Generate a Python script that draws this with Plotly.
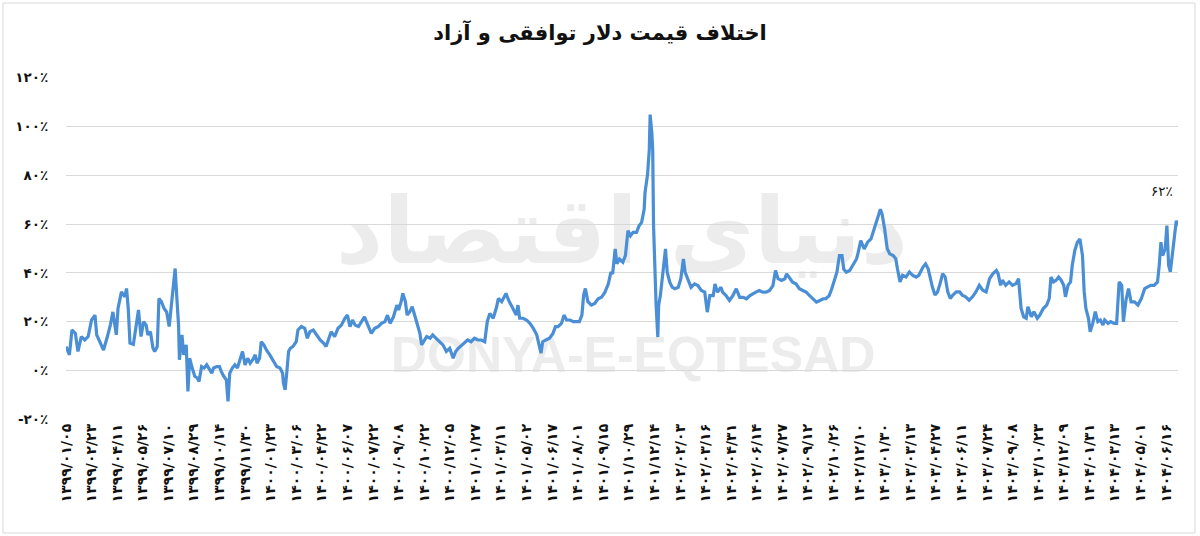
import plotly.graph_objects as go

# ---- data ----
day_index = [
    0, 4, 7, 11, 14, 18, 22, 26, 30, 34, 36, 40, 44, 48, 52, 55, 59, 61, 65, 69, 71, 73, 75, 79, 82, 85, 88, 91, 94, 96,
    99, 102, 104, 107, 109, 112, 115, 118, 121, 124, 126, 128, 130, 132, 133, 136, 138, 141, 143, 145, 148, 151, 154, 156,
    159, 162, 165, 168, 171, 173, 177, 180, 182, 185, 188, 190, 192, 195, 198, 201, 204, 207, 210, 213, 216, 219, 222, 224,
    227, 229, 232, 235, 239, 243, 247, 251, 254, 255, 257, 259, 261, 263, 266, 270, 272, 276, 280, 283, 286, 290, 294, 298,
    302, 305, 309,
    311, 315, 319, 323, 327, 330, 333, 336, 339, 343, 347, 350, 354, 358, 362, 366, 370, 374, 377, 380, 384, 388, 390, 393,
    395, 398, 400, 403, 406, 409, 412, 415, 417, 420, 423, 427, 430, 434, 438, 442, 446, 450, 454, 457, 460, 464, 468, 471,
    475, 479, 483, 487, 491, 494, 497, 501, 505, 507, 511, 514, 516, 519, 522, 525, 528, 530, 532, 536, 540, 544, 548, 552,
    554, 557, 559, 563, 567, 571, 574, 577, 581, 584, 587, 591, 595, 598, 602, 605, 607, 609, 612, 616, 620,
    624, 628, 632, 636, 639, 641, 644, 646, 649, 653, 656, 659, 662, 665, 669, 672, 675, 678, 679, 682, 684, 685, 687, 688,
    689, 691, 692, 694, 695, 697, 700, 703, 705, 708, 711, 714, 718, 721, 724, 726, 729, 733, 737, 741, 745, 749, 752, 755,
    759, 761, 764, 768, 770, 774, 778, 782, 786, 790, 794, 798, 802, 805, 809, 813, 817, 821, 825, 829, 832, 835, 839, 843,
    845, 848, 852, 856, 860, 864, 868, 872, 876, 880, 884, 888, 891, 895, 898, 901, 904, 907, 910, 912, 915, 919, 923, 927,
    929, 932, 936,
    940, 944, 948, 951, 954, 955, 957, 960, 963, 966, 970, 973, 975, 978, 981, 985, 989, 993, 997, 1000, 1005, 1008, 1011,
    1014, 1016, 1019, 1022, 1025, 1028, 1031, 1034, 1037, 1040, 1044, 1048, 1051, 1055, 1059, 1063, 1067, 1071, 1075, 1079,
    1083, 1087, 1091, 1093, 1096, 1098, 1102, 1106, 1110, 1114, 1117, 1118, 1120, 1123, 1126, 1128, 1132, 1135, 1139, 1142,
    1146, 1150, 1153, 1155, 1158, 1161, 1164, 1167, 1170, 1172, 1175, 1178, 1180, 1183, 1186, 1189, 1192, 1194, 1196, 1199,
    1201, 1204, 1207, 1210, 1213, 1216, 1218, 1222, 1225, 1229, 1232, 1235, 1238, 1240, 1243, 1246, 1249, 1253, 1257, 1261,
    1265, 1268, 1272, 1276, 1280, 1282, 1284, 1286, 1289, 1291, 1293, 1295, 1298, 1300, 1302, 1304,
]

gap_pct = [
    9.8, 6.4, 16.6, 15.2, 7.8, 13.9, 12.5, 13.9, 20.7, 22.7, 14.6, 11.2, 8.4, 13.2, 18.6, 24.0, 14.6, 25.4, 32.2, 30.2, 33.6,
    25.4, 11.2, 10.7, 18.6, 24.8, 13.9, 20.0, 18.6, 14.6, 15.9, 9.1, 7.8, 9.8, 29.5, 28.2, 25.4, 24.0, 18.0, 29.5, 37.7, 41.8,
    29.5, 18.6, 4.4, 14.6, 6.4, 10.5, -8.6, 5.0, 1.0, -2.4, -3.1, -4.5, 1.6, 1.0, 2.3, 0.3, -1.1, 1.0, 1.6, 1.6, -0.4, -2.4,
    -3.8, -12.7, -1.1, 1.0, 2.3, 1.0, 5.0, 7.8, 2.3, 5.0, 3.0, 4.4, 6.4, 3.0, 5.0, 11.8, 10.5, 8.4, 6.4, 3.7, 1.6, 1.0, -1.1,
    -5.2, -7.9, -0.4, 7.8, 9.1, 9.8, 11.8, 16.6, 18.0, 17.3, 13.2, 15.9, 16.6, 14.6, 12.5, 11.2, 9.8, 13.9,
    15.9, 13.9, 17.3, 18.6, 21.4, 22.7, 18.0, 20.7, 18.6, 18.0, 20.0, 22.0, 18.6, 15.2, 17.3, 18.0, 19.3, 20.0, 22.7, 19.3,
    22.0, 26.8, 24.8, 28.2, 31.6, 28.2, 22.7, 24.0, 26.1, 22.7, 18.6, 15.2, 10.5, 12.5, 13.9, 13.2, 14.6, 13.2, 11.8, 10.5,
    7.8, 9.1, 5.0, 7.8, 9.1, 10.5, 11.8, 12.5, 11.8, 13.2, 12.5, 12.5, 11.8, 20.0, 23.4, 21.4, 26.1, 29.5, 28.2, 30.2, 31.6,
    28.8, 26.8, 25.4, 22.7, 26.8, 21.4, 21.4, 20.7, 19.3, 17.3, 14.6, 11.2, 7.1, 11.8, 12.5, 13.2, 15.2, 18.0, 18.0, 19.3,
    22.7, 20.7, 20.7, 20.0, 20.0, 20.0, 22.7, 30.9, 33.6, 28.2, 26.8, 27.5,
    29.4, 30.0, 32.1, 35.5, 40.3, 39.6, 49.8, 43.7, 45.7, 44.4, 47.1, 57.3, 55.2, 56.6, 56.6, 59.3, 60.7, 66.1, 72.9, 80.4,
    90.6, 104.9, 97.4, 90.6, 59.3, 30.7, 26.7, 13.7, 26.7, 30.7, 41.6, 49.8, 40.3, 36.2, 34.1, 33.5, 34.1, 37.6, 45.7, 40.3,
    37.6, 34.1, 35.5, 34.8, 32.8, 32.1, 23.9, 30.7, 30.7, 35.5, 32.1, 34.1, 32.1, 30.7, 28.7, 30.7, 33.5, 30.0, 30.0, 29.4,
    30.7, 31.4, 32.1, 32.8, 32.1, 32.1, 32.8, 34.8, 41.0, 37.6, 36.9, 37.6, 39.6, 38.2, 36.2, 35.5, 33.5, 32.8, 32.1, 30.7,
    29.4, 28.0, 28.7, 29.4, 29.4, 30.7, 33.5, 36.9, 40.3, 47.1, 47.1, 41.6, 40.3, 41.0, 43.7, 45.7, 48.4, 53.2, 49.8,
    52.6, 53.9, 58.0, 61.4, 64.1, 66.1, 64.1, 58.0, 49.9, 47.8, 47.1, 45.8, 41.7, 36.3, 39.0, 38.3, 40.4, 39.0, 38.3, 39.0,
    42.4, 43.7, 41.7, 37.0, 34.2, 30.9, 32.2, 35.6, 39.7, 38.3, 32.2, 29.5, 30.9, 32.2, 32.2, 30.9, 30.2, 28.8, 30.2, 32.2,
    34.9, 32.9, 32.2, 37.6, 39.7, 41.0, 39.7, 34.9, 37.0, 34.9, 36.3, 34.9, 35.6, 37.6, 33.6, 25.4, 22.0, 21.4, 26.1, 22.0,
    24.1, 21.4, 22.7, 25.4, 26.8, 29.5, 38.3, 36.3, 37.0, 38.3, 37.0, 34.9, 30.2, 34.9, 36.3, 43.1, 49.2, 52.6, 53.9, 47.1,
    32.2, 25.4, 21.4, 15.9, 19.3, 24.1, 20.0, 20.7, 18.6, 20.7, 19.3, 20.0, 19.3, 19.3, 36.3, 34.9, 20.0, 28.8, 33.6, 28.1,
    28.1, 26.8, 29.5, 33.6, 34.2, 34.9, 34.9, 36.3, 43.1, 52.6, 47.1, 49.9, 59.4, 43.1, 40.4, 49.9, 53.9, 61.4, 59.4,
]

tick_days = [30 * k for k in range(44)]
tick_labels = [
    "۱۳۹۹/۰۱/۰۵", "۱۳۹۹/۰۲/۲۳", "۱۳۹۹/۰۴/۱۱", "۱۳۹۹/۰۵/۲۶", "۱۳۹۹/۰۷/۱۰", "۱۳۹۹/۰۸/۲۹", "۱۳۹۹/۱۰/۱۴", "۱۳۹۹/۱۱/۳۰",
    "۱۴۰۰/۰۱/۲۳", "۱۴۰۰/۰۳/۰۶", "۱۴۰۰/۰۴/۲۲", "۱۴۰۰/۰۶/۰۷", "۱۴۰۰/۰۷/۲۲", "۱۴۰۰/۰۹/۰۸", "۱۴۰۰/۱۰/۲۲", "۱۴۰۰/۱۲/۰۵",
    "۱۴۰۱/۰۱/۲۷", "۱۴۰۱/۰۳/۱۱", "۱۴۰۱/۰۵/۰۲", "۱۴۰۱/۰۶/۱۷", "۱۴۰۱/۰۸/۰۱", "۱۴۰۱/۰۹/۱۵", "۱۴۰۱/۱۰/۲۹", "۱۴۰۱/۱۲/۱۴",
    "۱۴۰۲/۰۲/۰۳", "۱۴۰۲/۰۳/۱۶", "۱۴۰۲/۰۴/۳۱", "۱۴۰۲/۰۶/۱۴", "۱۴۰۲/۰۷/۲۷", "۱۴۰۲/۰۹/۱۲", "۱۴۰۲/۱۰/۲۶", "۱۴۰۲/۱۲/۱۰",
    "۱۴۰۳/۰۱/۳۰", "۱۴۰۳/۰۳/۱۳", "۱۴۰۳/۰۴/۲۷", "۱۴۰۳/۰۶/۱۱", "۱۴۰۳/۰۷/۲۴", "۱۴۰۳/۰۹/۰۸", "۱۴۰۳/۱۰/۲۳", "۱۴۰۳/۱۲/۰۹",
    "۱۴۰۴/۰۱/۳۱", "۱۴۰۴/۰۳/۱۳", "۱۴۰۴/۰۵/۰۱", "۱۴۰۴/۰۶/۱۶",
]
y_ticks = [-20, 0, 20, 40, 60, 80, 100, 120]
last_label = "۶۲٪"
title_text = "اختلاف قیمت دلار توافقی و آزاد"

FA = str.maketrans("0123456789", "۰۱۲۳۴۵۶۷۸۹")


def fa_pct(v):
    return str(v).translate(FA) + "٪"


FONT = "DejaVu Sans"

fig = go.Figure()
fig.add_trace(go.Scatter(
    x=day_index, y=gap_pct, mode="lines",
    line=dict(color="#4a8fd6", width=3.2),
    hoverinfo="skip", showlegend=False,
))

fig.update_layout(
    width=1200, height=536,
    margin=dict(l=66, r=22, t=77, b=116),
    paper_bgcolor="white", plot_bgcolor="white",
    title=dict(text="<b>" + title_text + "</b>", x=0.5, xanchor="center",
               y=1 - 33 / 536, yanchor="middle", yref="container",
               font=dict(family=FONT, size=21, color="#111111")),
    xaxis=dict(range=[0, day_index[-1]], tickmode="array", tickvals=tick_days,
               ticktext=tick_labels, tickangle=-90, showgrid=False, zeroline=False,
               showline=False, ticks="", automargin=False,
               tickfont=dict(family=FONT, size=14, color="#111111", weight="bold")),
    yaxis=dict(range=[-20.3, 120.3], tickmode="array", tickvals=y_ticks,
               ticktext=[fa_pct(v) for v in y_ticks], showgrid=True,
               gridcolor="#d9d9d9", gridwidth=1, zeroline=False, showline=False,
               ticks="outside", ticklen=14, tickcolor="rgba(0,0,0,0)", automargin=False,
               tickfont=dict(family=FONT, size=13.5, color="#111111", weight="bold")),
)

# watermark (drawn below the line)
fig.add_shape(type="rect", xref="paper", yref="paper", x0=0.25, x1=0.75, y0=0.42, y1=0.72,
              line=dict(width=0), fillcolor="rgba(0,0,0,0)", layer="below",
              label=dict(text="<b>دنیای اقتصاد</b>", textposition="middle center",
                         font=dict(family=FONT, size=92, color="#ececec")))
fig.add_shape(type="rect", xref="paper", yref="paper", x0=0.3, x1=0.72, y0=0.12, y1=0.29,
              line=dict(width=0), fillcolor="rgba(0,0,0,0)", layer="below",
              label=dict(text="<b>DONYA-E-EQTESAD</b>", textposition="middle center",
                         font=dict(family="Liberation Sans", size=50, color="#ececec")))

# outer chart border
fig.add_shape(type="rect", xref="paper", yref="paper",
              x0=-0.0567, x1=1.0153, y0=-0.3294, y1=1.2157,
              line=dict(color="#d9d9d9", width=1), fillcolor="rgba(0,0,0,0)", layer="below")

# end label
fig.add_annotation(x=day_index[-1], y=gap_pct[-1], text=last_label, showarrow=False,
                   xshift=-16, yshift=35,
                   font=dict(family=FONT, size=13.5, color="#111111"))

fig.write_html("out.html", config={"displayModeBar": False},
               post_script="document.body.style.margin='0';")
